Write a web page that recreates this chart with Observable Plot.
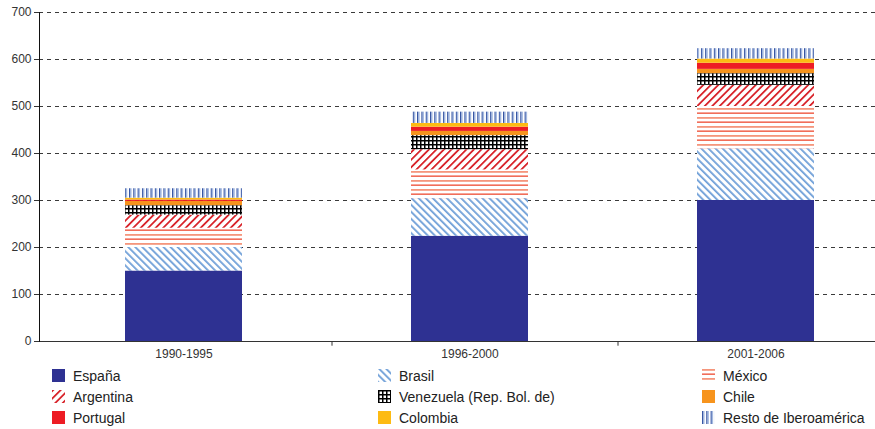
<!DOCTYPE html>
<html><head><meta charset="utf-8">
<script src="https://cdn.jsdelivr.net/npm/d3@7"></script>
<script src="https://cdn.jsdelivr.net/npm/@observablehq/plot@0.6"></script>
<style>
body{margin:0;background:#fff;font-family:"Liberation Sans",Arial,sans-serif;}
#chart{width:875px;height:365px;}
#legend{position:relative;width:875px;height:64px;}
.item{position:absolute;display:flex;align-items:center;font-size:14px;color:#222;height:21px;white-space:nowrap;}
.item svg{margin-right:8px;flex:none;}
</style></head><body>
<svg width="0" height="0" style="position:absolute">
<defs>
<pattern id="pBrasil" width="5" height="5" patternUnits="userSpaceOnUse" patternTransform="rotate(-45)">
<rect width="5" height="5" fill="#fff"/><rect x="0" y="0" width="1.8" height="5" fill="#6f9fd8"/>
</pattern>
<pattern id="pArg" width="5.3" height="5.3" patternUnits="userSpaceOnUse" patternTransform="rotate(45)">
<rect width="5.3" height="5.3" fill="#fff"/><rect x="0" y="0" width="1.8" height="5.3" fill="#d8232a"/>
</pattern>
<pattern id="pMex" width="10" height="9" patternUnits="userSpaceOnUse">
<rect width="10" height="9" fill="#fff"/><rect x="0" y="0" width="10" height="1.8" fill="#f5967c"/><rect x="0" y="4.5" width="10" height="1.3" fill="#ee4a32"/>
</pattern>
<pattern id="pVen" width="4" height="4" patternUnits="userSpaceOnUse">
<rect width="4" height="4" fill="#fff"/><rect x="0" y="0" width="1.5" height="4" fill="#000"/><rect x="0" y="0" width="4" height="1.5" fill="#000"/>
</pattern>
<pattern id="pResto" width="4.3" height="4" patternUnits="userSpaceOnUse">
<rect width="4.3" height="4" fill="#fff"/><rect x="0" y="0" width="1.2" height="4" fill="#2f4fa0"/><rect x="1.2" y="0" width="1.2" height="4" fill="#93acdb"/>
</pattern>
</defs>
</svg>
<div id="chart"></div>
<div id="legend"></div>
<script>
const periods = ["1990-1995", "1996-2000", "2001-2006"];
const series = ["España", "Brasil", "México", "Argentina", "Venezuela (Rep. Bol. de)", "Chile", "Portugal", "Colombia", "Resto de Iberoamérica"];
const espana    = [150, 224, 300];
const brasil    = [50, 80, 110];
const mexico    = [41, 61, 90];
const argentina = [28, 43, 45];
const venezuela = [20, 30, 25];
const chile     = [9, 9, 9];
const portugal  = [3, 9, 13];
const colombia  = [4, 8, 9];
const resto     = [20, 24, 22];
const yTicks = [0, 100, 200, 300, 400, 500, 600, 700];
const fills = ["#2e3192", "url(#pBrasil)", "url(#pMex)", "url(#pArg)", "url(#pVen)", "#f7941d", "#ed1c24", "#fdbb13", "url(#pResto)"];
const legendOrder = ["España", "Brasil", "México", "Argentina", "Venezuela (Rep. Bol. de)", "Chile", "Portugal", "Colombia", "Resto de Iberoamérica"];

const values = [espana, brasil, mexico, argentina, venezuela, chile, portugal, colombia, resto];
const rows = [];
series.forEach((s, i) => periods.forEach((p, j) => rows.push({serie: s, period: p, value: values[i][j]})));

const chart = Plot.plot({
  width: 875, height: 365,
  marginLeft: 39, marginRight: 0, marginTop: 12, marginBottom: 24,
  style: {fontFamily: "Liberation Sans, Arial, sans-serif", fontSize: "12px", color: "#333", background: "#fff"},
  x: {domain: periods, range: [39.25, 898.75], paddingInner: 0.592, paddingOuter: 0.296, label: null},
  y: {domain: [0, 700], label: null},
  color: {type: "ordinal", domain: series, range: fills},
  marks: [
    Plot.gridY(yTicks.filter(d => d > 0), {stroke: "#3a3a3a", strokeOpacity: 1, strokeDasharray: "4,4"}),
    Plot.barY(rows, {x: "period", y: "value", fill: "serie", order: series}),
    Plot.ruleY([0], {stroke: "#333"}),
    Plot.frame({anchor: "left", stroke: "#111"}),
    Plot.axisY({ticks: yTicks, tickSize: 5, tickPadding: 3, label: null}),
    Plot.axisX({tickSize: 0, tickPadding: 8, label: null}),
    Plot.ruleX(periods.slice(0, 2), {x: d => d, y1: 0, y2: -10, dx: 148, stroke: "#333"})
  ]
});
document.getElementById("chart").appendChild(chart);

const legend = document.getElementById("legend");
const colX = [52, 378, 702];
const rowY = [0, 21, 42];
legendOrder.forEach((s, k) => {
  const i = series.indexOf(s);
  const div = document.createElement("div");
  div.className = "item";
  div.style.left = colX[k % 3] + "px";
  div.style.top = rowY[Math.floor(k / 3)] + "px";
  div.innerHTML = `<svg width="13" height="13"><rect width="13" height="13" fill="${fills[i]}"/></svg><span>${s}</span>`;
  legend.appendChild(div);
});
</script>
</body></html>
